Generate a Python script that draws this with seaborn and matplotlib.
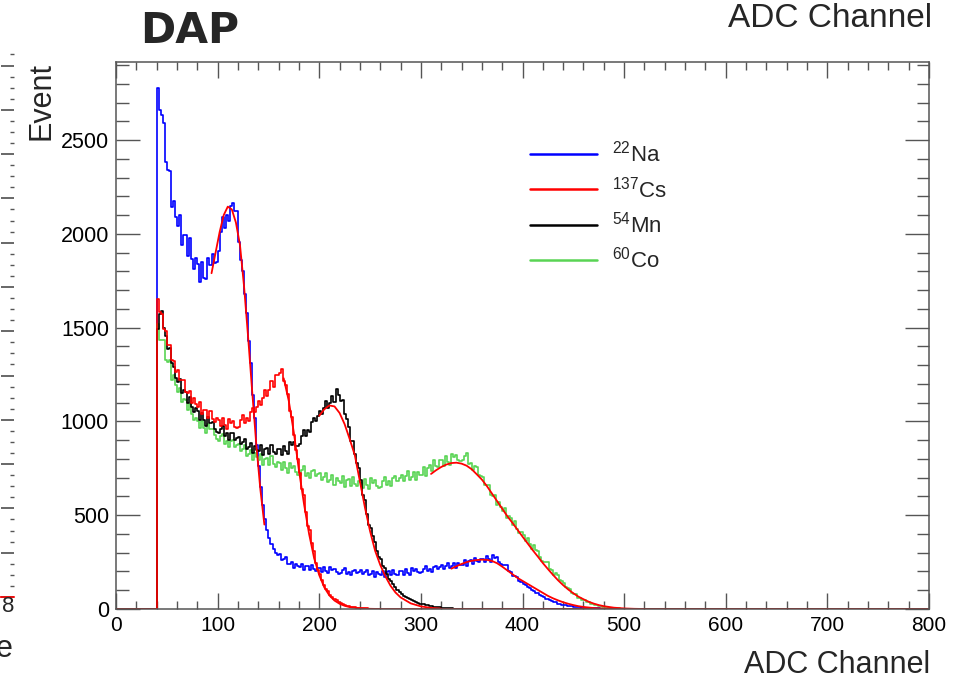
import numpy as np
import matplotlib
matplotlib.use("Agg")
import matplotlib.pyplot as plt
from matplotlib.ticker import MultipleLocator
from matplotlib.lines import Line2D
import seaborn as sns

# ---------------- data ----------------
BIN_WIDTH = 2          # ADC channels per bin
FIRST_BIN = 40         # lower edge of the first non-empty bin
X_RANGE = (0, 800)
Y_MAX = 2916

# counts per 2-channel bin, starting at channel 40 (one row = 20 channels)
na22 = [2780, 2662, 2632, 2590, 2385, 2340, 2335, 2145, 2175, 2088,
        2040, 2102, 1940, 1995, 1993, 1880, 1980, 1865, 1815, 1870,
        1840, 1743, 1850, 1765, 1760, 1870, 1835, 1890, 1845, 1850,
        1910, 2010, 2090, 2029, 2099, 2068, 2150, 2165, 2124, 2122,
        1955, 1860, 1800, 1680, 1580, 1430, 1310, 1140, 1020, 875,
        760, 650, 555, 480, 420, 380, 345, 320, 300, 288,
        292, 263, 268, 275, 239, 242, 253, 220, 241, 229,
        222, 242, 208, 227, 230, 207, 235, 211, 203, 220,
        217, 196, 223, 203, 190, 223, 208, 215, 196, 189,
        190, 207, 218, 188, 199, 181, 204, 210, 190, 199,
        206, 185, 196, 210, 179, 187, 203, 173, 197, 188,
        183, 205, 173, 195, 200, 180, 210, 189, 183, 202,
        201, 182, 211, 193, 182, 218, 205, 214, 197, 192,
        196, 215, 228, 201, 214, 198, 224, 231, 213, 224,
        234, 215, 229, 245, 217, 227, 245, 218, 244, 237,
        235, 260, 231, 254, 261, 242, 274, 254, 249, 269,
        269, 251, 281, 264, 253, 288, 272, 276, 252, 238,
        234, 236, 232, 201, 197, 174, 178, 172, 149, 146,
        134, 129, 116, 112, 100, 97, 86, 83, 72, 70,
        63, 55, 53, 46, 43, 37, 35, 29, 28, 23,
        22, 20, 16, 15, 14, 11, 10, 9, 8, 7,
        6, 6, 5, 4, 4, 3, 3, 3, 2, 2,
        2, 1, 1, 1, 1]

cs137 = [1655, 1585, 1570, 1495, 1480, 1410, 1405, 1330, 1320, 1262,
         1275, 1220, 1220, 1223, 1156, 1152, 1163, 1100, 1125, 1095,
         1076, 1101, 1037, 1061, 1060, 1016, 1058, 1014, 995, 1019,
         1010, 973, 1016, 981, 958, 1012, 989, 1001, 972, 964,
         972, 1007, 1033, 992, 1020, 1001, 1051, 1072, 1052, 1079,
         1108, 1090, 1127, 1168, 1136, 1168, 1213, 1185, 1245, 1250,
         1260, 1282, 1213, 1195, 1147, 1054, 1024, 925, 846, 800,
         725, 640, 608, 519, 442, 421, 352, 310, 247, 206,
         188, 153, 130, 108, 95, 77, 65, 54, 47, 37,
         32, 25, 22, 17, 15, 12, 10, 9, 7, 6,
         5, 4, 3, 3, 2, 2, 1]

mn54 = [1495, 1575, 1590, 1500, 1455, 1385, 1390, 1310, 1290, 1230,
        1208, 1225, 1152, 1166, 1155, 1100, 1130, 1079, 1052, 1070,
        1053, 1010, 1047, 1005, 975, 1021, 992, 996, 958, 941,
        938, 962, 976, 922, 936, 902, 936, 940, 902, 910,
        918, 877, 891, 908, 853, 862, 884, 832, 868, 850,
        840, 875, 820, 852, 860, 824, 873, 836, 824, 854,
        851, 820, 870, 842, 827, 888, 872, 891, 869, 868,
        882, 924, 956, 922, 956, 942, 996, 1020, 1002, 1030,
        1058, 1037, 1071, 1108, 1070, 1096, 1134, 1105, 1172, 1140,
        1110, 1115, 1038, 1015, 972, 894, 894, 825, 776, 750,
        689, 608, 579, 505, 447, 431, 387, 358, 311, 278,
        265, 231, 216, 186, 161, 151, 131, 118, 99, 91,
        81, 71, 66, 57, 53, 46, 43, 36, 34, 29,
        27, 24, 21, 19, 16, 14, 12, 11, 9, 8,
        6, 5, 4, 4, 3, 3, 2, 2, 1, 1]

co60 = [1520, 1436, 1434, 1436, 1329, 1318, 1325, 1221, 1249, 1194,
        1158, 1177, 1106, 1122, 1113, 1060, 1092, 1038, 1008, 1020,
        1003, 963, 1003, 964, 937, 986, 957, 962, 925, 908,
        895, 920, 934, 881, 895, 862, 896, 901, 863, 872,
        880, 840, 855, 873, 818, 827, 848, 795, 830, 810,
        793, 826, 770, 800, 805, 767, 813, 773, 758, 784,
        776, 740, 784, 749, 726, 779, 754, 763, 730, 717,
        715, 742, 760, 709, 727, 696, 734, 741, 707, 718,
        725, 688, 706, 727, 675, 688, 712, 662, 700, 683,
        672, 708, 653, 686, 694, 657, 706, 669, 655, 684,
        678, 645, 692, 660, 640, 696, 674, 686, 656, 646,
        652, 684, 706, 660, 682, 656, 698, 710, 680, 696,
        716, 684, 707, 733, 686, 703, 732, 687, 730, 717,
        714, 757, 710, 750, 765, 736, 792, 762, 756, 792,
        794, 764, 814, 785, 768, 827, 808, 823, 796, 788,
        792, 818, 830, 772, 780, 739, 764, 759, 712, 711,
        706, 660, 660, 662, 607, 604, 608, 554, 571, 544,
        525, 536, 484, 494, 486, 448, 468, 428, 405, 413,
        397, 363, 377, 344, 319, 340, 313, 308, 277, 258,
        249, 251, 248, 211, 209, 183, 190, 182, 154, 149,
        140, 118, 112, 106, 83, 80, 78, 56, 61, 49,
        47, 36, 35, 28, 27, 20, 20, 15, 15, 10,
        10, 8, 6, 5, 5, 4, 3, 3, 2, 2,
        1, 1, 1, 1]

# fitted curves
fit_na1_x = [94, 98, 102, 106, 110, 114, 118, 122, 126, 130, 134, 138, 142, 146]
fit_na1_y = [1790, 1900, 2010, 2100, 2145, 2130, 2060, 1940, 1720, 1450, 1160, 880, 640, 450]

fit_cs_x = [165, 170, 175, 180, 185, 190, 195, 200, 205, 210, 215, 220, 225, 230, 240, 250, 260]
fit_cs_y = [1230, 1110, 940, 740, 560, 400, 270, 180, 115, 72, 45, 28, 17, 10, 4, 1, 0]

fit_mn_x = [200, 205, 210, 215, 220, 225, 230, 235, 240, 245, 250, 255, 260, 265,
            270, 275, 280, 290, 300, 310, 320]
fit_mn_y = [1030, 1065, 1085, 1080, 1045, 985, 905, 820, 680, 540, 415, 310, 235, 175,
            125, 88, 62, 30, 14, 6, 2]

fit_na2_x = [330, 335, 340, 345, 350, 355, 360, 365, 370, 375, 380, 385, 390, 395,
             400, 405, 410, 415, 420, 425, 430, 435, 440, 445, 450, 455, 460, 470,
             480, 490, 500]
fit_na2_y = [215, 228, 240, 250, 257, 261, 263, 262, 256, 244, 226, 206, 186, 166,
             150, 134, 118, 102, 86, 70, 57, 46, 36, 28, 21, 15, 11, 5,
             2, 1, 0]

fit_co_x = [310, 315, 320, 325, 330, 335, 340, 345, 350, 355, 360, 365, 370, 375,
            380, 385, 390, 395, 400, 405, 410, 415, 420, 425, 430, 435, 440, 445,
            450, 455, 460, 465, 470, 475, 480, 490, 500, 510, 520]
fit_co_y = [720, 740, 757, 770, 778, 780, 775, 764, 745, 718, 690, 655, 615, 575,
            535, 495, 460, 423, 386, 350, 314, 280, 245, 213, 182, 153, 127, 104,
            84, 66, 52, 39, 29, 21, 15, 7, 3, 1, 0]

labels = [r"$^{22}$Na", r"$^{137}$Cs", r"$^{54}$Mn", r"$^{60}$Co"]
series = [na22, cs137, mn54, co60]
colors = ["#0000ff", "#ff0000", "#000000", "#59d454"]

# ---------------- style ----------------
sns.set_theme(style="ticks")
plt.rcParams["font.family"] = ["Liberation Sans", "DejaVu Sans"]
plt.rcParams["mathtext.fontset"] = "custom"
plt.rcParams["mathtext.rm"] = "Liberation Sans"
plt.rcParams["mathtext.it"] = "Liberation Sans:italic"
plt.rcParams["mathtext.bf"] = "Liberation Sans:bold"

fig = plt.figure(figsize=(9.55, 6.8), dpi=100)
fig.patch.set_facecolor("white")
W, H = 955.0, 680.0
ax = fig.add_axes([116 / W, (H - 609) / H, (929 - 116) / W, (609 - 62) / H])
ax.set_facecolor("white")

edges = np.arange(X_RANGE[0], X_RANGE[1] + BIN_WIDTH, BIN_WIDTH)


def full_counts(vals):
    c = np.zeros(len(edges))
    i0 = (FIRST_BIN - X_RANGE[0]) // BIN_WIDTH
    c[i0:i0 + len(vals)] = vals
    return c


draw_order = [0, 3, 2, 1]  # Na, Co, Mn, Cs (Cs on top)
for i in draw_order:
    sns.lineplot(x=edges, y=full_counts(series[i]), ax=ax, color=colors[i],
                 lw=1.2, drawstyle="steps-post", estimator=None, sort=False,
                 legend=False)

for fx, fy in [(fit_na1_x, fit_na1_y), (fit_cs_x, fit_cs_y), (fit_mn_x, fit_mn_y),
               (fit_na2_x, fit_na2_y), (fit_co_x, fit_co_y)]:
    sns.lineplot(x=fx, y=fy, ax=ax, color="#ff0000", lw=1.3,
                 estimator=None, sort=False, legend=False)

ax.set_xlim(*X_RANGE)
ax.set_ylim(0, Y_MAX)
ax.set_xlabel("")
ax.set_ylabel("")
ax.xaxis.set_major_locator(MultipleLocator(100))
ax.xaxis.set_minor_locator(MultipleLocator(20))
ax.yaxis.set_major_locator(MultipleLocator(500))
ax.yaxis.set_minor_locator(MultipleLocator(100))
tick_col = "#555555"
ax.tick_params(which="both", direction="in", top=True, right=True,
               color=tick_col, width=1.0, labelcolor="black")
ax.tick_params(axis="x", which="major", length=11.5, pad=5, labelsize=15)
ax.tick_params(axis="x", which="minor", length=5.8)
ax.tick_params(axis="y", which="major", length=17.3, pad=5, labelsize=15.5)
ax.tick_params(axis="y", which="minor", length=9.0)
for s in ax.spines.values():
    s.set_color(tick_col)
    s.set_linewidth(1.1)

handles = [Line2D([], [], color=c, lw=1.8) for c in colors]
ax.legend(handles, labels, loc="upper left", frameon=False, fontsize=16,
          handlelength=3.0, handletextpad=0.7, labelspacing=0.42,
          borderpad=0, borderaxespad=0,
          bbox_to_anchor=(530 / W, (H - 141) / H), bbox_transform=fig.transFigure)

# texts
fig.text(932 / W, (H - 27) / H, "ADC Channel", ha="right", va="baseline", fontsize=24)
fig.text(930 / W, (H - 673) / H, "ADC Channel", ha="right", va="baseline", fontsize=22)
fig.text(26 / W, (H - 62) / H, "Event", rotation=90, ha="left", va="top", fontsize=22)
fig.text(140 / W, (H - 43) / H, "DAP", ha="left", va="baseline", fontsize=30.5,
         fontweight="bold", family="DejaVu Sans")

# remnants of the neighbouring pad at the left edge
axl = fig.add_axes([-0.3, (H - 597) / H, 0.3 + 13.5 / W, (597 - 50) / H])
axl.set_xlim(0, 1)
axl.set_ylim(0, 12.35)
axl.patch.set_alpha(0)
axl.yaxis.set_major_locator(MultipleLocator(1))
axl.yaxis.set_minor_locator(MultipleLocator(0.25))
axl.set_xticks([])
axl.tick_params(axis="y", which="both", direction="in", left=False, right=True,
                labelleft=False, labelright=False, color=tick_col)
axl.tick_params(axis="y", which="major", length=9.5)
axl.tick_params(axis="y", which="minor", length=3)
for k in ["left", "top", "right"]:
    axl.spines[k].set_visible(False)
axl.spines["bottom"].set_color("#ff0000")
axl.spines["bottom"].set_linewidth(1.2)
fig.text(8 / W, (H - 607) / H, "8", ha="center", va="center", fontsize=16)
fig.text(13 / W, (H - 657) / H, "e", ha="right", va="baseline", fontsize=22)

fig.savefig("out.png", dpi=100, facecolor="white")
